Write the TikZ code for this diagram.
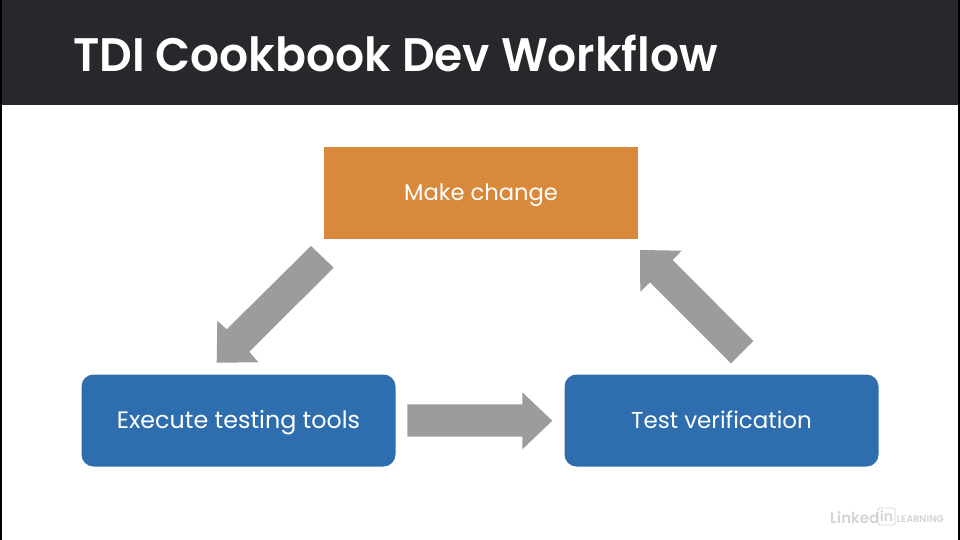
\documentclass[tikz,border=0pt]{standalone}
\usepackage{fontspec}
\setmainfont{Poppins}[BoldFont={Poppins SemiBold}]
\newfontfamily\titlefont{Poppins SemiBold}[FakeStretch=0.97]
\definecolor{barc}{HTML}{27282C}
\definecolor{orangec}{HTML}{D9893B}
\definecolor{bluec}{HTML}{2F6EAE}
\definecolor{arrowc}{HTML}{9B9C9E}
\definecolor{logoc}{HTML}{D4D4D4}
\tikzset{
  box/.style={fill=#1,draw=none,inner sep=0pt,text=white,text height=16pt,text depth=1pt,font=\fontsize{23}{28}\selectfont},
  blockarrow/.style={fill=arrowc,draw=none},
}
\begin{document}
\begin{tikzpicture}[x=1pt,y=-1pt]
\useasboundingbox (0,0) rectangle (960,540);
\fill[white] (0,0) rectangle (960,540);
\fill[barc] (0,0) rectangle (960,105.5);
\fill[black] (0,0) rectangle (2,540);
\fill[black] (958,0) rectangle (960,540);
\node[anchor=base west,inner sep=0pt,text=white,font=\titlefont\fontsize{47}{52}\selectfont] (title) at (73,72) {TDI Cookbook Dev Workflow};
\node[box=orangec,minimum width=314pt,minimum height=92pt,font=\fontsize{22.6}{28}\selectfont] (make) at (481,193) {Make change};
\node[box=bluec,rounded corners=12pt,minimum width=314pt,minimum height=92pt,font=\fontsize{23.8}{28}\selectfont] (exec) at (238.5,420.5) {Execute testing tools};
\node[box=bluec,rounded corners=12pt,minimum width=314pt,minimum height=92pt] (test) at (721.5,420.5) {Test verification};
\fill[blockarrow] (311,246) -- (333.7,267.7) -- (249.3,351.7) -- (258.3,362.3) -- (216.7,362.7) -- (217.3,320.7) -- (226.7,329.3) -- cycle;
\fill[blockarrow] (753.3,341) -- (731,363.3) -- (650,282.3) -- (640.3,291.7) -- (640,250) -- (681.7,250.7) -- (672.7,260) -- cycle;
\fill[blockarrow] (407.3,404.3) -- (522.3,404.3) -- (522.3,392.3) -- (552.3,420.7) -- (522.3,449.3) -- (522.3,436.7) -- (407.3,436.7) -- cycle;
\node[anchor=base west,inner sep=0pt,text=logoc,font=\bfseries\fontsize{15}{18}\selectfont] (logoa) at (830,523) {Linked};
\node[anchor=center,inner sep=0pt,text=logoc,draw=logoc,line width=0.8pt,rounded corners=2pt,minimum width=17pt,minimum height=17pt,font=\bfseries\fontsize{14}{18}\selectfont] (logob) at (886.5,516.5) {in};
\node[anchor=base west,inner sep=0pt,text=logoc,font=\bfseries\fontsize{9.7}{11}\selectfont] (logoc) at (896.5,522.5) {LEARNING};
\end{tikzpicture}
\end{document}
